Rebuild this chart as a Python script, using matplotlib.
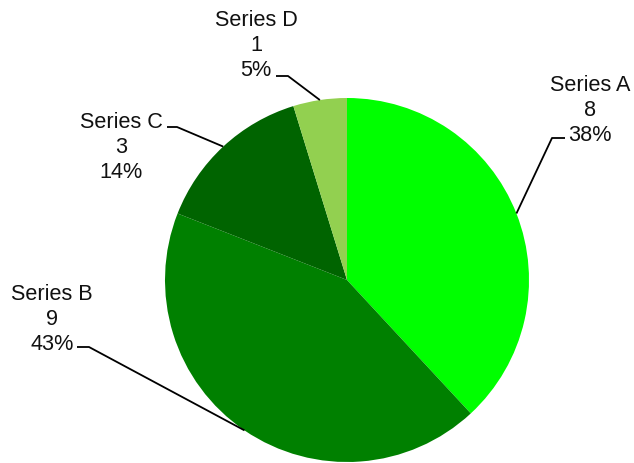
import numpy as np
import matplotlib
matplotlib.use('Agg')
import matplotlib.pyplot as plt

plt.rcParams['font.family'] = ['Liberation Sans', 'DejaVu Sans']

names = ['Series A', 'Series B', 'Series C', 'Series D']
values = [8, 9, 3, 1]
colors = ['#00FF00', '#008000', '#006400', '#92D050']

W, H = 634, 464
cx, cy, R = 347, 281, 182          # pie centre / radius in pixel coords (y down)
# label layout: text centre x, first baseline y, leader start (text side), elbow
lab_x = [590, 52, 121, 256]
lab_y = [91, 300, 128, 26]
lead_a = [(565, 139), (77, 348), (167, 128), (276, 77)]
lead_b = [(552, 139), (89, 348), (177, 128), (288, 77)]

fig = plt.figure(figsize=(W / 100, H / 100), dpi=100)
ax = fig.add_axes([0, 0, 1, 1])

wedges, _ = ax.pie(values, colors=colors, startangle=90, counterclock=False,
                   center=(cx, H - cy), radius=R, wedgeprops=dict(linewidth=0))
ax.set_xlim(0, W); ax.set_ylim(0, H)
ax.set_aspect('equal')
ax.axis('off')

total = sum(values)
for i, w in enumerate(wedges):
    pct = f'{100 * values[i] / total:.0f}%'
    for k, s in enumerate([names[i], str(values[i]), pct]):
        ax.text(lab_x[i], H - (lab_y[i] + 25 * k), s, ha='center', va='baseline',
                fontsize=15.6, color='#111111')
    mid = np.deg2rad((w.theta1 + w.theta2) / 2)
    px, py = cx + R * np.cos(mid), H - cy + R * np.sin(mid)
    xs = [lead_a[i][0], lead_b[i][0], px]
    ys = [H - lead_a[i][1], H - lead_b[i][1], py]
    ax.plot(xs, ys, color='black', lw=1.3, solid_capstyle='butt')

fig.savefig('out.png', dpi=100)
